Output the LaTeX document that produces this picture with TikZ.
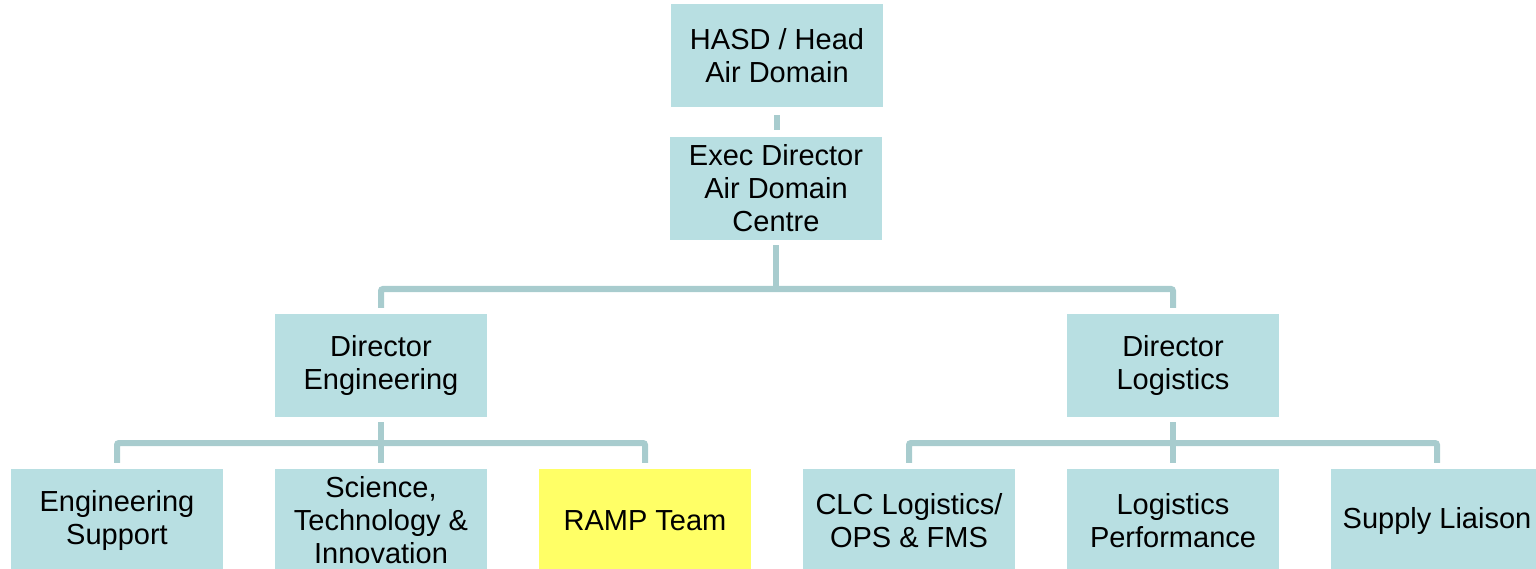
\documentclass[tikz,border=0pt]{standalone}
\usepackage{fontspec}
\setmainfont{Liberation Sans}
\definecolor{boxfill}{HTML}{B8DFE2}
\definecolor{rampfill}{HTML}{FFFF66}
\definecolor{connc}{HTML}{A8CCCE}
\begin{document}
\begin{tikzpicture}[x=1pt,y=-1pt,
  orgbox/.style={fill=boxfill,draw=none,minimum width=212pt,minimum height=103pt,inner sep=0pt,align=center,font=\fontsize{29}{33}\selectfont,text=black},
  conn/.style={draw=connc,line width=6pt,rounded corners=2pt}]
\useasboundingbox (0,0) rectangle (1536,569);
\node[orgbox] (hasd) at (777,55.5) {HASD / Head\\Air Domain};
\node[orgbox] (exec) at (776,188.5) {Exec Director\\Air Domain\\Centre};
\node[orgbox] (deng) at (381,365.5) {Director\\Engineering};
\node[orgbox] (dlog) at (1173,365.5) {Director\\Logistics};
\node[orgbox] (es) at (117,520.5) {Engineering\\Support};
\node[orgbox] (sti) at (381,520.5) {Science,\\Technology \&\\Innovation};
\node[orgbox,fill=rampfill] (ramp) at (645,520.5) {RAMP Team};
\node[orgbox] (clc) at (909,520.5) {CLC Logistics/\\OPS \& FMS};
\node[orgbox] (lp) at (1173,520.5) {Logistics\\Performance};
\node[orgbox] (sl) at (1437,520.5) {Supply Liaison};
% connectors
\draw[conn] ([yshift=-8pt]hasd.south) -- ([yshift=7pt]hasd.south |- exec.north);
\draw[conn] ([yshift=-5pt]exec.south) -- (exec.south |- 0,289);
\draw[conn] ([yshift=6pt]deng.north) -- (deng.north |- 0,289) -- (dlog.north |- 0,289) -- ([yshift=6pt]dlog.north);
\draw[conn] ([yshift=-5pt]deng.south) -- ([yshift=6pt]sti.north);
\draw[conn] ([yshift=6pt]es.north) -- (es.north |- 0,443) -- (ramp.north |- 0,443) -- ([yshift=6pt]ramp.north);
\draw[conn] ([yshift=-5pt]dlog.south) -- ([yshift=6pt]lp.north);
\draw[conn] ([yshift=6pt]clc.north) -- (clc.north |- 0,443) -- (sl.north |- 0,443) -- ([yshift=6pt]sl.north);
\end{tikzpicture}
\end{document}
